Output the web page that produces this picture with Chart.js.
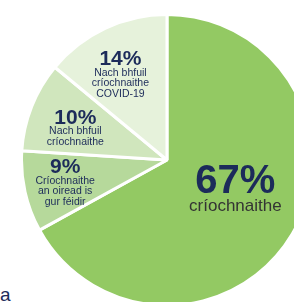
<!DOCTYPE html>
<html>
<head>
<meta charset="utf-8">
<script src="https://cdn.jsdelivr.net/npm/chart.js@4/dist/chart.umd.min.js"></script>
<style>
  html, body { margin: 0; padding: 0; background: #fff; overflow: hidden; width: 294px; height: 302px; }
  #wrap { position: absolute; left: 20px; top: 13px; width: 294px; height: 294px; }
  #note { position: absolute; left: 0px; top: 284px; font: 19px "Liberation Sans", Arial, sans-serif; color: #1c2b5a; }
</style>
</head>
<body>
<div id="wrap"><canvas id="pie" width="294" height="294"></canvas></div>
<div id="note">a</div>
<script>
// slices clockwise from 12 o'clock
const shares = [67, 9, 10, 14];
const pctLabels = ['67%', '9%', '10%', '14%'];
const subLabels = [
  ['críochnaithe'],
  ['Críochnaithe', 'an oiread is', 'gur féidir'],
  ['Nach bhfuil', 'críochnaithe'],
  ['Nach bhfuil', 'críochnaithe', 'COVID-19']
];
const sliceColors = ['#93c963', '#b6d99b', '#d0e6bd', '#e6f2db'];

const NAVY = '#1c2b5a';
// label anchor as fraction of the radius from the centre
const anchors = [[0.47, 0.15], [-0.70, 0.05], [-0.63, -0.29], [-0.32, -0.69]];

const labelPlugin = {
  id: 'sliceLabels',
  afterDatasetsDraw(chart) {
    const ctx = chart.ctx;
    const arcs = chart.getDatasetMeta(0).data;
    ctx.save();
    ctx.textAlign = 'center';
    ctx.textBaseline = 'middle';
    arcs.forEach((arc, i) => {
      const r = arc.outerRadius;
      const x = arc.x + anchors[i][0] * r;
      const y = arc.y + anchors[i][1] * r;
      const big = i === 0;
      ctx.fillStyle = NAVY;
      ctx.font = big ? 'bold 40px "Liberation Sans", Arial, sans-serif' : 'bold 21px "Liberation Sans", Arial, sans-serif';
      ctx.fillText(pctLabels[i], x, y);
      ctx.font = big ? '17px "Liberation Sans", Arial, sans-serif' : '10.5px "Liberation Sans", Arial, sans-serif';
      ctx.fillStyle = big ? '#333333' : NAVY;
      const first = big ? 24 : 13.5;
      const step = big ? 17 : 10.5;
      subLabels[i].forEach((line, k) => ctx.fillText(line, x, y + first + k * step));
    });
    ctx.restore();
  }
};

new Chart(document.getElementById('pie'), {
  type: 'pie',
  data: {
    labels: pctLabels,
    datasets: [{
      data: shares,
      backgroundColor: sliceColors,
      borderColor: '#ffffff',
      borderWidth: 3,
      hoverOffset: 0,
      offset: 0
    }]
  },
  options: {
    responsive: false,
    animation: false,
    events: [],
    layout: { padding: 0 },
    plugins: { legend: { display: false }, tooltip: { enabled: false } }
  },
  plugins: [labelPlugin]
});
</script>
</body>
</html>
